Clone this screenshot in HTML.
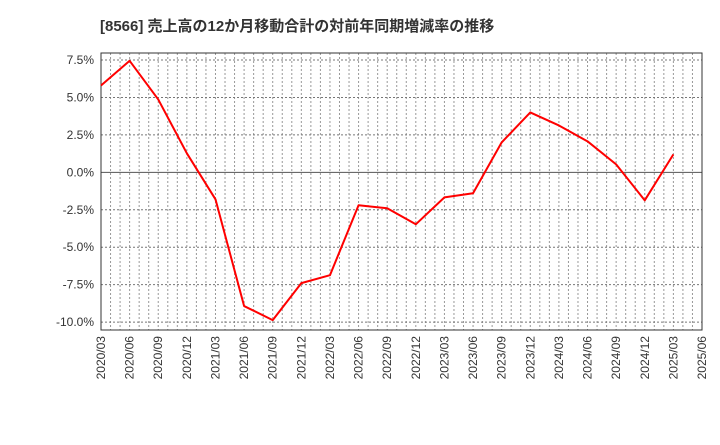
<!DOCTYPE html>
<html><head><meta charset="utf-8"><style>
body{margin:0;background:#fff;font-family:"Liberation Sans","Noto Sans CJK JP",sans-serif;}
</style></head><body>
<svg id="c" width="720" height="440" xmlns="http://www.w3.org/2000/svg">
<text x="100" y="31" font-size="15" font-weight="bold" fill="#333" font-family="Liberation Sans, Noto Sans CJK JP, sans-serif">[8566]  売上高の12か月移動合計の対前年同期増減率の推移</text>
<g id="grid"></g><g id="axes"></g><g id="series"></g>
</svg>
<script>
const categories=["2020/03","2020/06","2020/09","2020/12","2021/03","2021/06","2021/09","2021/12","2022/03","2022/06","2022/09","2022/12","2023/03","2023/06","2023/09","2023/12","2024/03","2024/06","2024/09","2024/12","2025/03"];
const xTickLabels=["2020/03","2020/06","2020/09","2020/12","2021/03","2021/06","2021/09","2021/12","2022/03","2022/06","2022/09","2022/12","2023/03","2023/06","2023/09","2023/12","2024/03","2024/06","2024/09","2024/12","2025/03","2025/06"];
const values=[5.8,7.45,4.87,1.27,-1.8,-8.93,-9.87,-7.4,-6.87,-2.2,-2.4,-3.47,-1.67,-1.4,2.0,4.0,3.13,2.07,0.53,-1.87,1.2];
const yTicks=[7.5,5.0,2.5,0.0,-2.5,-5.0,-7.5,-10.0];
const L=101,R=702,T=53,B=330,yMax=7.97,yMin=-10.53;
const ns="http://www.w3.org/2000/svg";
const X=i=>L+(R-L)*i/21;
const Y=v=>T+(yMax-v)/(yMax-yMin)*(B-T);
function mk(tag,at,parent){const e=document.createElementNS(ns,tag);for(const k in at)e.setAttribute(k,at[k]);document.getElementById(parent).appendChild(e);return e;}
for(let m=1;m<63;m++){const x=L+(R-L)*m/63;
const g=mk('line',{x1:x,x2:x,y1:T,y2:B,stroke:'#999','stroke-dasharray':'2,2','stroke-width':1},'grid');

}
yTicks.forEach(v=>{const y=Y(v);
const g=mk('line',{x1:L,x2:R,y1:y,y2:y,stroke:v===0?'#555':'#777','stroke-dasharray':v===0?'none':'2,2','stroke-width':1},'grid');


const t=mk('text',{x:L-7,y:y+4,'text-anchor':'end','font-size':12,fill:'#333'},'axes');t.textContent=v.toFixed(1)+'%';

});
xTickLabels.forEach((s,i)=>{const x=X(i);
const t=mk('text',{transform:`translate(${x+4},${B+6}) rotate(-90)`,'text-anchor':'end','font-size':12,fill:'#333'},'axes');t.textContent=s;

});
const fr=mk('rect',{x:L,y:T,width:R-L,height:B-T,fill:'none',stroke:'#333','stroke-width':1},'axes');


const p=mk('polyline',{points:values.map((v,i)=>X(i)+','+Y(v)).join(' '),fill:'none',stroke:'#f00','stroke-width':2,'stroke-linejoin':'round'},'series');


</script>
</body></html>
